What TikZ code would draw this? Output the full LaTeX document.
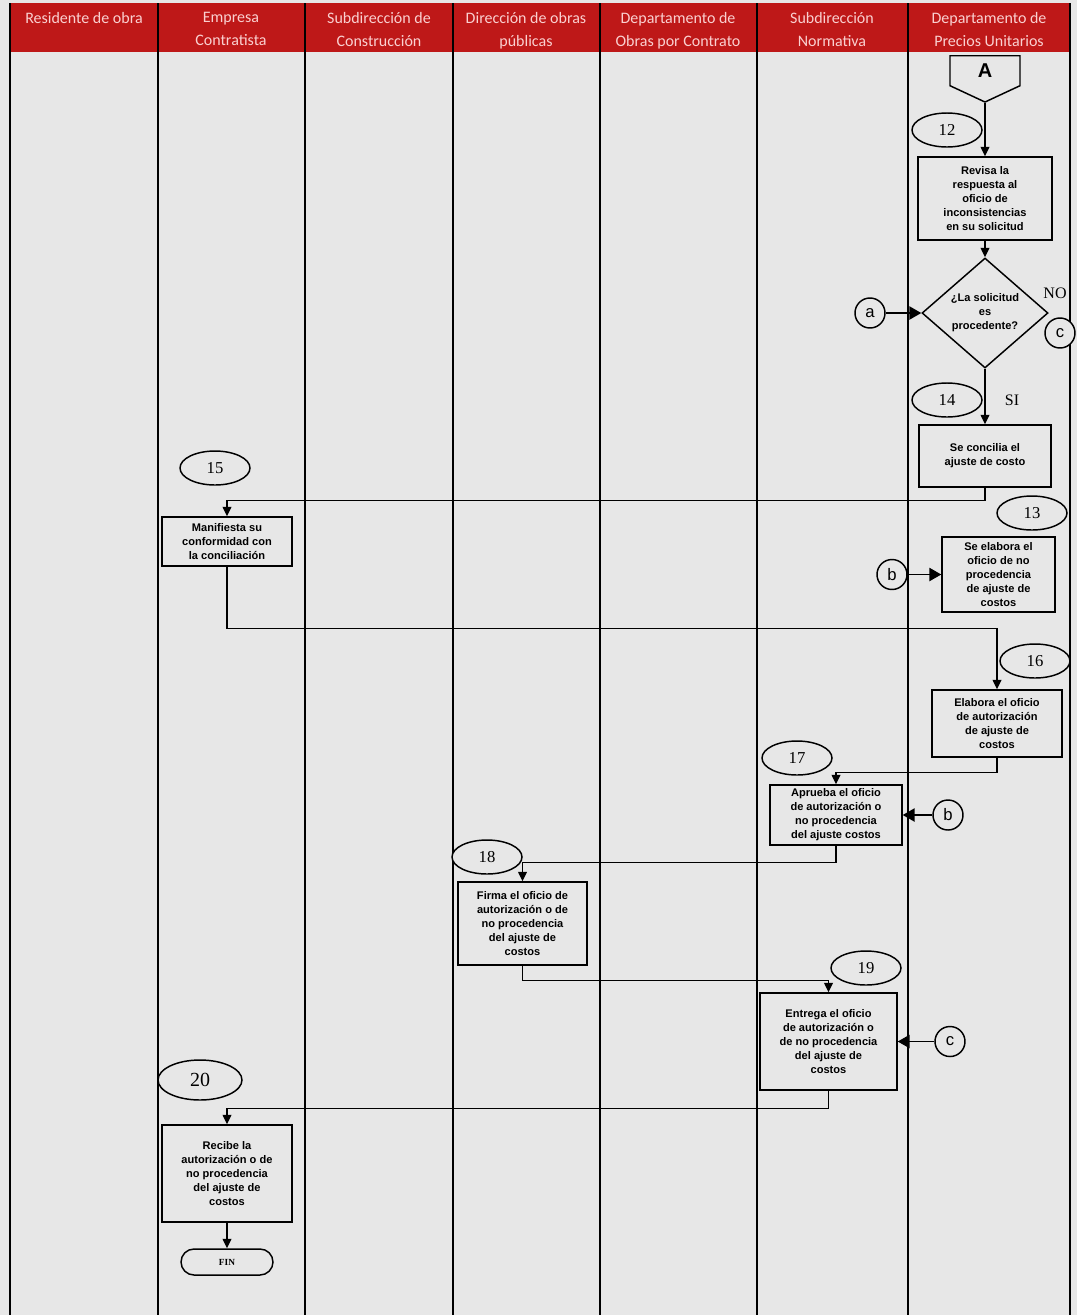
\documentclass[tikz,border=0pt]{standalone}
\usepackage{fontspec}
\setmainfont{Liberation Serif}
\setsansfont{Liberation Sans}
\newfontfamily\headfont{Carlito}
\usetikzlibrary{shapes.geometric,shapes.symbols,arrows.meta,positioning}

\definecolor{headred}{RGB}{190,24,24}
\definecolor{headtext}{RGB}{250,208,208}
\definecolor{paper}{RGB}{231,231,231}

\begin{document}
\begin{tikzpicture}[
        x=0.75pt, y=-0.75pt,
        lane_head/.style={font=\headfont\fontsize{12}{17.5}\selectfont, text=headtext,
            align=center, anchor=north, inner sep=0pt},
        proc/.style={rectangle, draw=black, line width=1.1pt, fill=paper, align=center,
            font=\sffamily\bfseries\fontsize{8.3}{10.5}\selectfont, inner sep=1pt},
        decision/.style={diamond, draw=black, line width=1.1pt, fill=paper, align=center,
            font=\sffamily\bfseries\fontsize{8.3}{10.5}\selectfont, inner sep=0pt},
        num/.style={ellipse, draw=black, line width=1.1pt, fill=paper, inner sep=0pt,
            minimum width=52.5pt, minimum height=25.5pt, font=\fontsize{12.5}{12.5}\selectfont},
        link/.style={circle, draw=black, line width=1.1pt, fill=paper, inner sep=0pt,
            minimum size=22.5pt, font=\sffamily\fontsize{12.5}{12.5}\selectfont},
        branch_label/.style={font=\fontsize{12}{12}\selectfont, inner sep=0pt},
        flow/.style={-{Triangle[length=7pt,width=6.5pt]}, line width=1pt},
        link_arrow/.style={-{Triangle[length=9pt,width=10pt]}, line width=1.2pt}
    ]
    \useasboundingbox (0,0) rectangle (1077,1315);
    \fill[paper] (0,0) rectangle (1077,1315);

    % Header band and lanes
    \fill[headred] (10,3) rectangle (1070,52);
    \draw[line width=1.1pt] (10,3) -- (10,1315) (158,3) -- (158,1315) (305,3) -- (305,1315)
        (453,3) -- (453,1315) (600,3) -- (600,1315) (757,3) -- (757,1315)
        (908,3) -- (908,1315) (1070,3) -- (1070,1315);
    \node[lane_head] (h1) at (84,12) {Residente de obra};
    \node[lane_head] (h2) at (231,12) {Empresa\\Contratista};
    \node[lane_head] (h3) at (379,12) {Subdirección de\\Construcción};
    \node[lane_head] (h4) at (526,12) {Dirección de obras\\públicas};
    \node[lane_head] (h5) at (678,12) {Departamento de\\Obras por Contrato};
    \node[lane_head] (h6) at (832,12) {Subdirección\\Normativa};
    \node[lane_head] (h7) at (989,12) {Departamento de\\Precios Unitarios};

    % Steps
    \node[signal, signal to=south, signal pointer angle=130, draw=black, line width=1.1pt,
        fill=paper, minimum width=52.5pt, minimum height=25pt, inner sep=0pt, anchor=north,
        font=\sffamily\bfseries\fontsize{15}{15}\selectfont] (sigA) at (985,55) {A};
    \node[num] (n12) at (947,130) {12};
    \node[proc, minimum width=100.5pt, minimum height=62.25pt] (b12) at (985,198.5)
        {Revisa la\\respuesta al\\oficio de\\inconsistencias\\en su solicitud};
    \node[decision, minimum width=94.5pt, minimum height=82.5pt] (dec) at (985,313)
        {¿La solicitud\\es\\procedente?};
    \node[branch_label] (no) at (1055,293) {NO};
    \node[link] (cc1) at (1060,333) {c};
    \node[link] (ca) at (870,313) {a};
    \node[num] (n14) at (947,400) {14};
    \node[branch_label] (si) at (1012,400) {SI};
    \node[proc, minimum width=99pt, minimum height=46.5pt] (b14) at (985,456)
        {Se concilia el\\ajuste de costo};
    \node[num] (n15) at (215,468) {15};
    \node[proc, minimum width=97.5pt, minimum height=36.75pt] (b15) at (227,541.5)
        {Manifiesta su\\conformidad con\\la conciliación};
    \node[num] (n13) at (1032,513) {13};
    \node[proc, minimum width=84.75pt, minimum height=56.25pt] (b13) at (998.5,574.5)
        {Se elabora el\\oficio de no\\procedencia\\de ajuste de\\costos};
    \node[link] (cb1) at (892,574.5) {b};
    \node[num] (n16) at (1035,661) {16};
    \node[proc, minimum width=97.5pt, minimum height=50.25pt] (b16) at (997,723.5)
        {Elabora el oficio\\de autorización\\de ajuste de\\costos};
    \node[num] (n17) at (797,758) {17};
    \node[proc, minimum width=99pt, minimum height=45pt] (b17) at (836,815)
        {Aprueba el oficio\\de autorización o\\no procedencia\\del ajuste costos};
    \node[link] (cb2) at (948,815) {b};
    \node[num] (n18) at (487,857) {18};
    \node[proc, minimum width=96.75pt, minimum height=62.25pt] (b18) at (522.5,923.5)
        {Firma el oficio de\\autorización o de\\no procedencia\\del ajuste de\\costos};
    \node[num] (n19) at (866,968) {19};
    \node[proc, minimum width=102.75pt, minimum height=72.75pt] (b19) at (828.5,1041.5)
        {Entrega el oficio\\de autorización o\\de no procedencia\\del ajuste de\\costos};
    \node[link] (cc2) at (950,1041.5) {c};
    \node[num, minimum width=63pt, minimum height=30pt, font=\fontsize{15}{15}\selectfont]
        (n20) at (200,1080) {20};
    \node[proc, minimum width=97.5pt, minimum height=72.75pt] (b20) at (227,1173.5)
        {Recibe la\\autorización o de\\no procedencia\\del ajuste de\\costos};
    \node[rectangle, rounded corners=9.75pt, draw=black, line width=1.1pt, fill=paper,
        minimum width=69pt, minimum height=19.5pt, inner sep=0pt,
        font=\bfseries\fontsize{7}{7}\selectfont] (fin) at (227,1262) {FIN};

    % Flow
    \draw[flow] (sigA.south) -- (b12.north);
    \draw[flow] (b12) -- (dec);
    \draw[flow] (dec.south) -- (b14.north);
    \draw[flow] (b14.south) -- ++(0,13) -| (b15.north);
    \draw[flow] (b15.south) -- ++(0,62) -| (b16.north);
    \draw[flow] (b16.south) -- ++(0,15) -| (b17.north);
    \draw[flow] (b17.south) -- ++(0,17) -| (b18.north);
    \draw[flow] (b18.south) -- ++(0,15) -| (b19.north);
    \draw[flow] (b19.south) -- ++(0,18) -| (b20.north);
    \draw[flow] (b20) -- (fin);

    % Connectors
    \draw[link_arrow] (ca) -- (dec.west);
    \draw[link_arrow] (cb1) -- (b13.west);
    \draw[link_arrow] (cb2) -- (b17.east);
    \draw[link_arrow] (cc2) -- (b19.east);
\end{tikzpicture}
\end{document}
